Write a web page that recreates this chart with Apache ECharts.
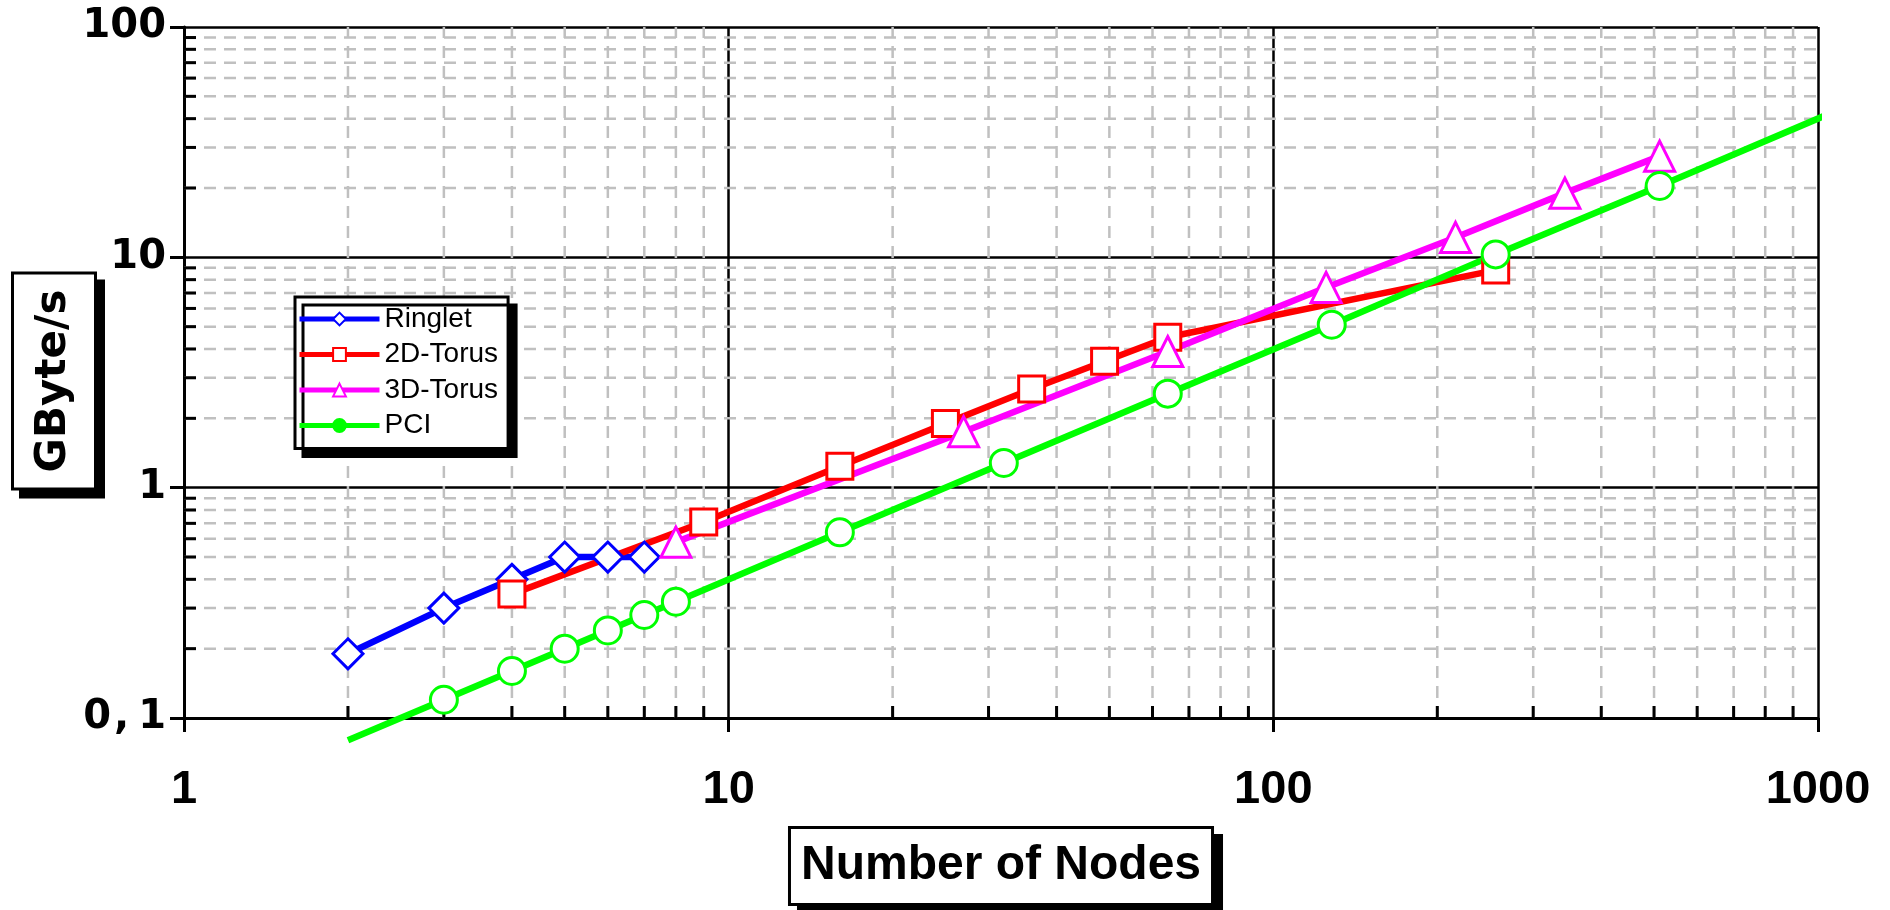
<!DOCTYPE html>
<html>
<head>
<meta charset="utf-8">
<script src="https://cdn.jsdelivr.net/npm/echarts@6/dist/echarts.min.js"></script>
<style>
html,body{margin:0;padding:0;background:#fff;}
#chart{width:1890px;height:910px;}
</style>
</head>
<body>
<div id="chart"></div>
<script>
// ---- data ----
const seriesNames = ['Ringlet', '2D-Torus', '3D-Torus', 'PCI'];

const ringletX = [2, 3, 4, 5, 6, 7];
const ringletY = [0.19, 0.30, 0.40, 0.50, 0.50, 0.50];

const torus2dX = [4, 9, 16, 25, 36, 49, 64, 256];
const torus2dY = [0.345, 0.71, 1.24, 1.9, 2.68, 3.54, 4.5, 8.8];

const torus3dX = [8, 27, 64, 125, 216, 343, 512];
const torus3dY = [0.58, 1.75, 3.9, 7.4, 12.2, 19.0, 27.5];

const pciX = [2, 3, 4, 5, 6, 7, 8, 16, 32, 64, 128, 256, 512, 1024];
const pciY = [0.08, 0.12, 0.16, 0.20, 0.24, 0.28, 0.32, 0.64, 1.28, 2.56, 5.1, 10.3, 20.4, 41];

const xTickValues = [1, 10, 100, 1000];
const xTickLabels = ['1', '10', '100', '1000'];
const yTickValues = [0.1, 1, 10, 100];
const yTickLabels = ['0,1', '1', '10', '100'];

const xMinorValues = [2, 3, 4, 5, 6, 7, 8, 9, 20, 30, 40, 50, 60, 70, 80, 90, 200, 300, 400, 500, 600, 700, 800, 900];
const yMinorValues = [0.2, 0.3, 0.4, 0.5, 0.6, 0.7, 0.8, 0.9, 2, 3, 4, 5, 6, 7, 8, 9, 20, 30, 40, 50, 60, 70, 80, 90];

const xAxisTitle = 'Number of Nodes';
const yAxisTitle = 'GByte/s';

const X_MIN = 1, X_MAX = 1000, Y_MIN = 0.1, Y_MAX = 100;

// ---- helpers ----
function lookupLabel(values, labels, v) {
  for (let i = 0; i < values.length; i++) {
    if (Math.abs(v - values[i]) <= values[i] * 1e-6) return labels[i];
  }
  return '';
}
function richYLabel(label) {
  return label.split(',').map(function (s) { return '{d|' + s + '}'; }).join('{c|,}');
}
function pairs(xs, ys) {
  return xs.map(function (x, i) {
    const inside = x >= X_MIN && x <= X_MAX && ys[i] >= Y_MIN && ys[i] <= Y_MAX;
    return inside ? { value: [x, ys[i]] } : { value: [x, ys[i]], symbol: 'none' };
  });
}

const COLORS = ['#0000ff', '#ff0000', '#ff00ff', '#00ff00'];
const SYMBOLS = ['diamond', 'rect', 'triangle', 'circle'];
const SIZES = [30, 26, 30, 27];
const MINOR_TICK = 12;
const Y_LABEL_FONT = { fontFamily: 'DejaVu Sans, sans-serif', fontWeight: 'bold', fontSize: 40, color: '#000' };

function lineSeries(idx, xs, ys) {
  return {
    name: seriesNames[idx],
    type: 'line',
    data: pairs(xs, ys),
    clip: false,
    symbol: SYMBOLS[idx],
    symbolSize: SIZES[idx],
    showAllSymbol: true,
    z: 3,
    lineStyle: { color: COLORS[idx], width: 6.5 },
    itemStyle: { color: '#ffffff', borderColor: COLORS[idx], borderWidth: 3 },
    emphasis: { disabled: true }
  };
}

const minorData = xMinorValues.map(function (v) { return [v, Y_MIN, 0]; })
  .concat(yMinorValues.map(function (v) { return [X_MIN, v, 1]; }));

const chart = echarts.init(document.getElementById('chart'), null, { renderer: 'canvas' });

const option = {
  animation: false,
  backgroundColor: '#ffffff',
  grid: { left: 184, right: 72, top: 27, bottom: 192, containLabel: false, outerBoundsMode: 'none' },
  graphic: [
    {
      type: 'text',
      x: 54,
      y: 381,
      rotation: Math.PI / 2,
      silent: true,
      z: 10,
      style: {
        text: yAxisTitle,
        align: 'center',
        verticalAlign: 'middle',
        fontFamily: 'DejaVu Sans, sans-serif',
        fontWeight: 'bold',
        fontSize: 42,
        lineHeight: 48,
        fill: '#000',
        backgroundColor: '#ffffff',
        borderColor: '#000000',
        borderWidth: 3,
        padding: [16, 15, 16, 15],
        shadowColor: '#000000',
        shadowBlur: 0,
        shadowOffsetX: 8,
        shadowOffsetY: 8
      }
    }
  ],
  legend: {
    orient: 'vertical',
    left: 295,
    top: 297,
    selectedMode: false,
    data: [
      { name: 'Ringlet' },
      { name: '2D-Torus' },
      { name: '3D-Torus' },
      { name: 'PCI', itemStyle: { color: '#00ff00', borderColor: '#00ff00' } }
    ],
    itemWidth: 80,
    itemHeight: 16,
    itemGap: 7.5,
    padding: [8, 10, 9, 2],
    backgroundColor: '#ffffff',
    borderColor: '#000000',
    borderWidth: 3,
    borderRadius: 0,
    shadowColor: '#000000',
    shadowBlur: 0,
    shadowOffsetX: 8,
    shadowOffsetY: 8,
    lineStyle: { width: 5 },
    textStyle: { fontFamily: 'Liberation Sans, Arial, sans-serif', fontWeight: 'normal', fontSize: 28, color: '#000', lineHeight: 27 }
  },
  xAxis: {
    type: 'log',
    logBase: 10,
    min: X_MIN,
    max: X_MAX,
    name: xAxisTitle,
    nameLocation: 'middle',
    nameGap: 111,
    nameMoveOverlap: false,
    nameTextStyle: {
      fontFamily: 'Liberation Sans, Arial, sans-serif',
      fontWeight: 'bold',
      fontSize: 48,
      lineHeight: 50,
      color: '#000',
      backgroundColor: '#ffffff',
      borderColor: '#000000',
      borderWidth: 3,
      padding: [12, 10, 12, 10],
      shadowColor: '#000000',
      shadowBlur: 0,
      shadowOffsetX: 9,
      shadowOffsetY: 8
    },
    axisLine: { show: true, lineStyle: { color: '#000', width: 3 } },
    axisTick: { show: true, inside: false, length: 14, lineStyle: { color: '#000', width: 3 } },
    axisLabel: {
      margin: 49,
      fontFamily: 'Liberation Sans, Arial, sans-serif',
      fontWeight: 'bold',
      fontSize: 47,
      color: '#000',
      formatter: function (v) { return lookupLabel(xTickValues, xTickLabels, v); }
    },
    splitLine: { show: true, lineStyle: { color: '#000', width: 2.5 } }
  },
  yAxis: {
    type: 'log',
    logBase: 10,
    min: Y_MIN,
    max: Y_MAX,
    axisLine: { show: true, lineStyle: { color: '#000', width: 3 } },
    axisTick: { show: true, inside: false, length: 14, lineStyle: { color: '#000', width: 3 } },
    axisLabel: {
      margin: 18,
      fontFamily: Y_LABEL_FONT.fontFamily,
      fontWeight: Y_LABEL_FONT.fontWeight,
      fontSize: Y_LABEL_FONT.fontSize,
      color: '#000',
      rich: {
        d: Y_LABEL_FONT,
        c: Object.assign({ padding: [0, 9, 0, 3] }, Y_LABEL_FONT)
      },
      formatter: function (v) { return richYLabel(lookupLabel(yTickValues, yTickLabels, v)); }
    },
    splitLine: { show: true, lineStyle: { color: '#000', width: 2.5 } }
  },
  series: [
    {
      type: 'custom',
      coordinateSystem: 'cartesian2d',
      silent: true,
      clip: false,
      z: 1,
      data: minorData,
      encode: { x: 0, y: 1 },
      renderItem: function (params, api) {
        const kind = api.value(2);
        if (kind === 0) {
          const v = api.value(0);
          const a = api.coord([v, Y_MIN]);
          const b = api.coord([v, Y_MAX]);
          return {
            type: 'group',
            children: [
              { type: 'line', shape: { x1: a[0], y1: a[1], x2: b[0], y2: b[1] },
                style: { stroke: '#c0c0c0', lineWidth: 2.5, lineDash: [12, 8] } },
              { type: 'line', shape: { x1: a[0], y1: a[1], x2: a[0], y2: a[1] - MINOR_TICK },
                style: { stroke: '#000', lineWidth: 3 } }
            ]
          };
        } else {
          const v = api.value(1);
          const a = api.coord([X_MIN, v]);
          const b = api.coord([X_MAX, v]);
          return {
            type: 'group',
            children: [
              { type: 'line', shape: { x1: a[0], y1: a[1], x2: b[0], y2: b[1] },
                style: { stroke: '#c0c0c0', lineWidth: 2.5, lineDash: [12, 8] } },
              { type: 'line', shape: { x1: a[0], y1: a[1], x2: a[0] + MINOR_TICK, y2: a[1] },
                style: { stroke: '#000', lineWidth: 3 } }
            ]
          };
        }
      }
    },
    lineSeries(0, ringletX, ringletY),
    lineSeries(1, torus2dX, torus2dY),
    lineSeries(2, torus3dX, torus3dY),
    lineSeries(3, pciX, pciY)
  ]
};

chart.setOption(option);
</script>
</body>
</html>
